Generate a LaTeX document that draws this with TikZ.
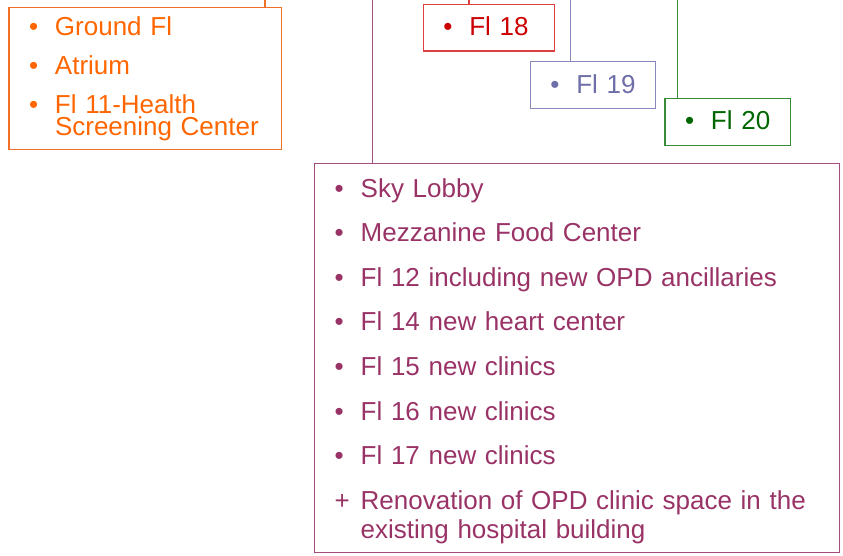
\documentclass[tikz,border=0pt]{standalone}
\usepackage{fontspec}
\setmainfont{Liberation Sans}
\usepackage{xcolor}
\usetikzlibrary{positioning}

\definecolor{flOrange}{RGB}{255,102,0}
\definecolor{flOrangeLine}{RGB}{240,112,40}
\definecolor{flRed}{RGB}{204,0,0}
\definecolor{flRedLine}{RGB}{220,64,64}
\definecolor{flBlue}{RGB}{110,110,168}
\definecolor{flBlue2}{RGB}{136,136,188}
\definecolor{flGreen}{RGB}{0,102,0}
\definecolor{flGreenLine}{RGB}{56,140,56}
\definecolor{flPurple}{RGB}{153,51,102}
\definecolor{flPurpleLine}{RGB}{164,76,124}

% bullet column and one list row
\newcommand{\flmark}[1]{\makebox[26pt][l]{#1}}
\newcommand{\flrow}[2]{\flmark{#1} & \smash{#2}}

\begin{document}
\begin{tikzpicture}[x=1pt, y=-1pt,
  floorbox/.style={draw, line width=1.2pt, inner xsep=20pt, inner ysep=4pt, align=left, anchor=north west},
  smallbox/.style={floorbox, text height=27.5pt, text depth=11.2pt, font=\fontsize{26}{29}\selectfont},
  riser/.style={line width=1.2pt}]
\useasboundingbox (0,0) rectangle (843,555);

% Lower floors (left, orange)
\node[floorbox, draw=flOrangeLine, text=flOrange, text width=232.7pt, font=\fontsize{26}{22}\selectfont] (lower) at (8.4,6.7) {%
\begin{tabular}{@{}l@{}l@{}}
\flrow{\textbullet}{Ground Fl}\rule{0pt}{23.7pt}\\[17pt]
\flrow{\textbullet}{Atrium}\\[17pt]
\flrow{\textbullet}{Fl 11-Health}\\
\flrow{}{Screening Center}\rule[-10.3pt]{0pt}{0pt}
\end{tabular}};

% Fl 18 (red)
\node[smallbox, draw=flRedLine, text=flRed, text width=91pt] (fl18) at (422.7,3.7) {\mbox{\flmark{\textbullet}Fl 18}};

% Fl 19 (blue, below right of Fl 18)
\node[smallbox, draw=flBlue2, text=flBlue, text width=85.4pt, below right=9.5pt and -25.2pt of fl18] (fl19) {\mbox{\flmark{\textbullet}Fl 19}};

% Fl 20 (green, below right of Fl 19)
\node[smallbox, draw=flGreenLine, text=flGreen, text width=85.3pt, below right=-11.2pt and 8.1pt of fl19] (fl20) {\mbox{\flmark{\textbullet}Fl 20}};

% Middle floors (purple, below right of lower floors)
\node[floorbox, draw=flPurpleLine, text=flPurple, text width=484.5pt, font=\fontsize{26}{29.5}\selectfont, below right=12.8pt and 31.8pt of lower] (middle) {%
\begin{tabular}{@{}l@{}l@{}}
\flrow{\textbullet}{Sky Lobby}\rule{0pt}{29.7pt}\\[15.1pt]
\flrow{\textbullet}{Mezzanine Food Center}\\[15.1pt]
\flrow{\textbullet}{Fl 12 including new OPD ancillaries}\\[15.1pt]
\flrow{\textbullet}{Fl 14 new heart center}\\[15.1pt]
\flrow{\textbullet}{Fl 15 new clinics}\\[15.1pt]
\flrow{\textbullet}{Fl 16 new clinics}\\[15.1pt]
\flrow{\textbullet}{Fl 17 new clinics}\\[15.1pt]
\flrow{+}{Renovation of OPD clinic space in the}\\
\flrow{}{existing hospital building}\rule[-10pt]{0pt}{0pt}
\end{tabular}};

% risers from the top edge
\coordinate (topLower) at (265,0);
\coordinate (top18) at (469,0);
\coordinate (top19) at (570.5,0);
\coordinate (top20) at (677.5,0);
\coordinate (topMiddle) at (372.3,0);

\draw[riser, flOrangeLine] (topLower) -- (topLower |- lower.north);
\draw[riser, flRedLine] (top18) -- (top18 |- fl18.north);
\draw[riser, flBlue2] (top19) -- (top19 |- fl19.north);
\draw[riser, flGreenLine] (top20) -- (top20 |- fl20.north);
\draw[riser, flPurpleLine] (topMiddle) -- (topMiddle |- middle.north);

\end{tikzpicture}
\end{document}
